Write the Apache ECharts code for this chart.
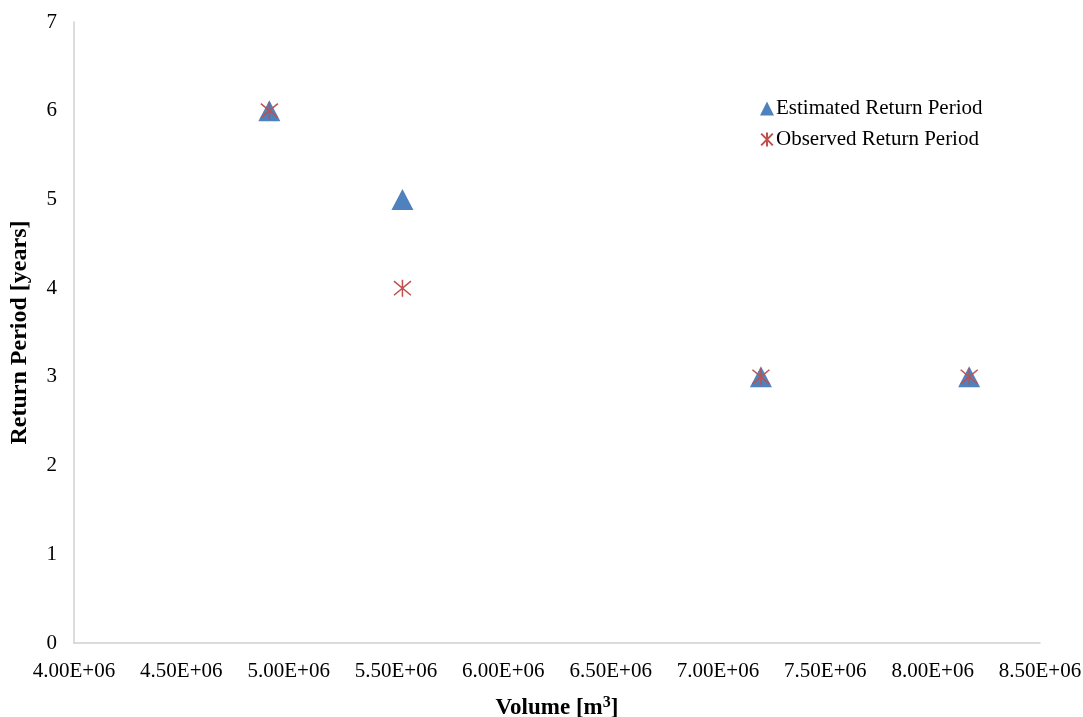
<!DOCTYPE html>
<html><head><meta charset="utf-8">
<script src="https://cdn.jsdelivr.net/npm/echarts@6/dist/echarts.min.js"></script>
<style>html,body{margin:0;padding:0;background:#fff}#c{width:1083px;height:717px}</style>
</head><body><div id="c"></div>
<script>
const volumes = [4.91e6, 5.53e6, 7.20e6, 8.17e6];
const estimated = [6, 5, 3, 3];
const observed = [6, 4, 3, 3];
const xTicks = ['4.00E+06','4.50E+06','5.00E+06','5.50E+06','6.00E+06','6.50E+06','7.00E+06','7.50E+06','8.00E+06','8.50E+06'];
const seriesNames = ['Estimated Return Period', 'Observed Return Period'];

const font = 'Liberation Serif';
const chart = echarts.init(document.getElementById('c'));
const starPath = 'path://M0,0L10,10M10,0L0,10M5,-1L5,11';
chart.setOption({
  animation: false,
  grid: {left: 74, right: 43, top: 22, bottom: 74, containLabel: false, outerBoundsMode: 'none'},
  legend: {
    orient: 'vertical', left: 755, top: 93, itemGap: 10, itemWidth: 14, itemHeight: 14,
    textStyle: {fontFamily: font, fontSize: 21, color: '#000', padding: [0,0,0,-3]},
    data: [
      {name: seriesNames[0], icon: 'triangle'},
      {name: seriesNames[1], icon: starPath}
    ]
  },
  xAxis: {
    type: 'value', min: 4.0e6, max: 8.5e6, interval: 0.5e6,
    name: '{a|Volume [m}{s|3}{a|]}', nameLocation: 'middle', nameGap: 52,
    nameTextStyle: {
      rich: {
        a: {fontFamily: font, fontSize: 23, fontWeight: 'bold', color: '#000', lineHeight: 26},
        s: {fontFamily: font, fontSize: 16, fontWeight: 'bold', color: '#000', verticalAlign: 'top', lineHeight: 16}
      }
    },
    axisLine: {lineStyle: {color: '#d0d0d0', width: 1.5}},
    axisTick: {show: false},
    splitLine: {show: false},
    axisLabel: {fontFamily: font, fontSize: 21, color: '#000', margin: 18,
      formatter: (v) => xTicks[Math.round((v - 4.0e6) / 0.5e6)]}
  },
  yAxis: {
    type: 'value', min: 0, max: 7, interval: 1,
    name: 'Return Period [years]', nameLocation: 'middle', nameGap: 42,
    nameTextStyle: {fontFamily: font, fontSize: 24, fontWeight: 'bold', color: '#000'},
    axisLine: {show: true, lineStyle: {color: '#d0d0d0', width: 1.5}},
    axisTick: {show: false},
    splitLine: {show: false},
    axisLabel: {fontFamily: font, fontSize: 21, color: '#000', margin: 17}
  },
  series: [
    {
      name: seriesNames[0], type: 'scatter', symbol: 'triangle', symbolSize: [22, 21],
      itemStyle: {color: '#4F81BD', opacity: 1},
      data: volumes.map((v, i) => [v, estimated[i]])
    },
    {
      name: seriesNames[1], type: 'scatter', symbol: starPath, symbolSize: 17,
      itemStyle: {color: 'transparent', borderColor: '#C0504D', borderWidth: 1.5, opacity: 1},
      data: volumes.map((v, i) => [v, observed[i]])
    }
  ]
});
</script></body></html>
